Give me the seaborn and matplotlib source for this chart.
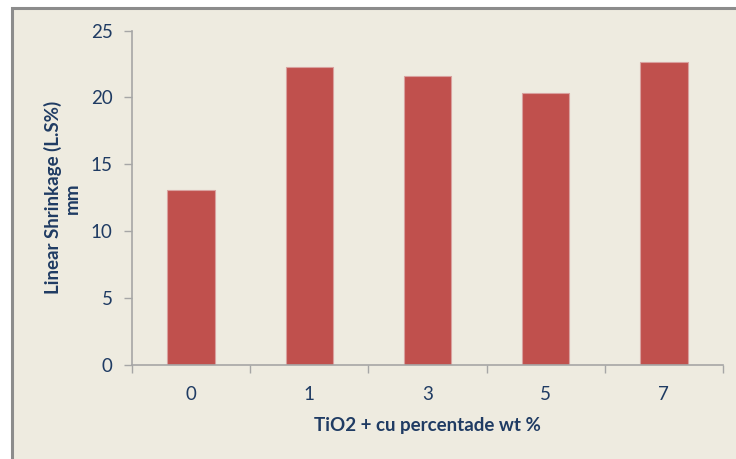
import matplotlib
matplotlib.use("Agg")
import matplotlib.pyplot as plt
from matplotlib.patches import Rectangle
import seaborn as sns
import pandas as pd

# TiO2 + Cu additions (wt %) and measured linear shrinkage
categories = ["0", "1", "3", "5", "7"]
shrinkage = [13.05, 22.3, 21.6, 20.3, 22.65]

y_ticks = [0, 5, 10, 15, 20, 25]

bg = "#EEEBE0"
bar_color = "#C0504D"
text_color = "#1F3B63"
axis_gray = "#A6A6A6"

sns.set_theme(style="white")
plt.rcParams["font.family"] = ["Lato", "DejaVu Sans"]

W, H = 736, 459
fig = plt.figure(figsize=(W / 100, H / 100), dpi=100, facecolor="white")

# chart-area panel with grey frame on the visible left/top edges
frame = Rectangle((11.5, -10), W + 20, H - 7.5 + 10, transform=None,
                  facecolor=bg, edgecolor="#8C8C8C", linewidth=2.2, zorder=-5)
fig.patches.append(frame)

ax = fig.add_axes([132 / W, 1 - 365 / H, (723 - 132) / W, (365 - 30.5) / H])
ax.set_facecolor("none")

df = pd.DataFrame({"pct": categories, "ls": shrinkage})
sns.barplot(data=df, x="pct", y="ls", order=categories, color=bar_color,
            saturation=1, width=0.4, edgecolor="#D9A19F", linewidth=0.8, ax=ax)

ax.set_ylim(0, 25)
ax.set_yticks(y_ticks)
ax.set_xlim(-0.5, len(categories) - 0.5)

for side in ("top", "right"):
    ax.spines[side].set_visible(False)
for side in ("left", "bottom"):
    ax.spines[side].set_color(axis_gray)
    ax.spines[side].set_linewidth(1.2)

ax.tick_params(axis="y", which="major", direction="out", length=5.5, width=1.0,
               color=axis_gray, labelsize=13.5, labelcolor=text_color, pad=8.5, left=True)
ax.tick_params(axis="x", which="major", length=0, labelsize=13.5,
               labelcolor=text_color, pad=15)
ax.set_xticks([i - 0.5 for i in range(len(categories) + 1)], minor=True)
ax.tick_params(axis="x", which="minor", direction="out", length=5.5, width=1.0,
               color=axis_gray, bottom=True)

ax.set_ylabel("Linear Shrinkage (L.S%)\nmm", fontsize=13.5, fontweight="bold",
              color=text_color, labelpad=7, linespacing=1.15)
ax.set_xlabel("TiO2 + cu percentade wt %", fontsize=13.5, fontweight="bold",
              color=text_color, labelpad=10)

fig.savefig("out.png", dpi=100, facecolor="white")
